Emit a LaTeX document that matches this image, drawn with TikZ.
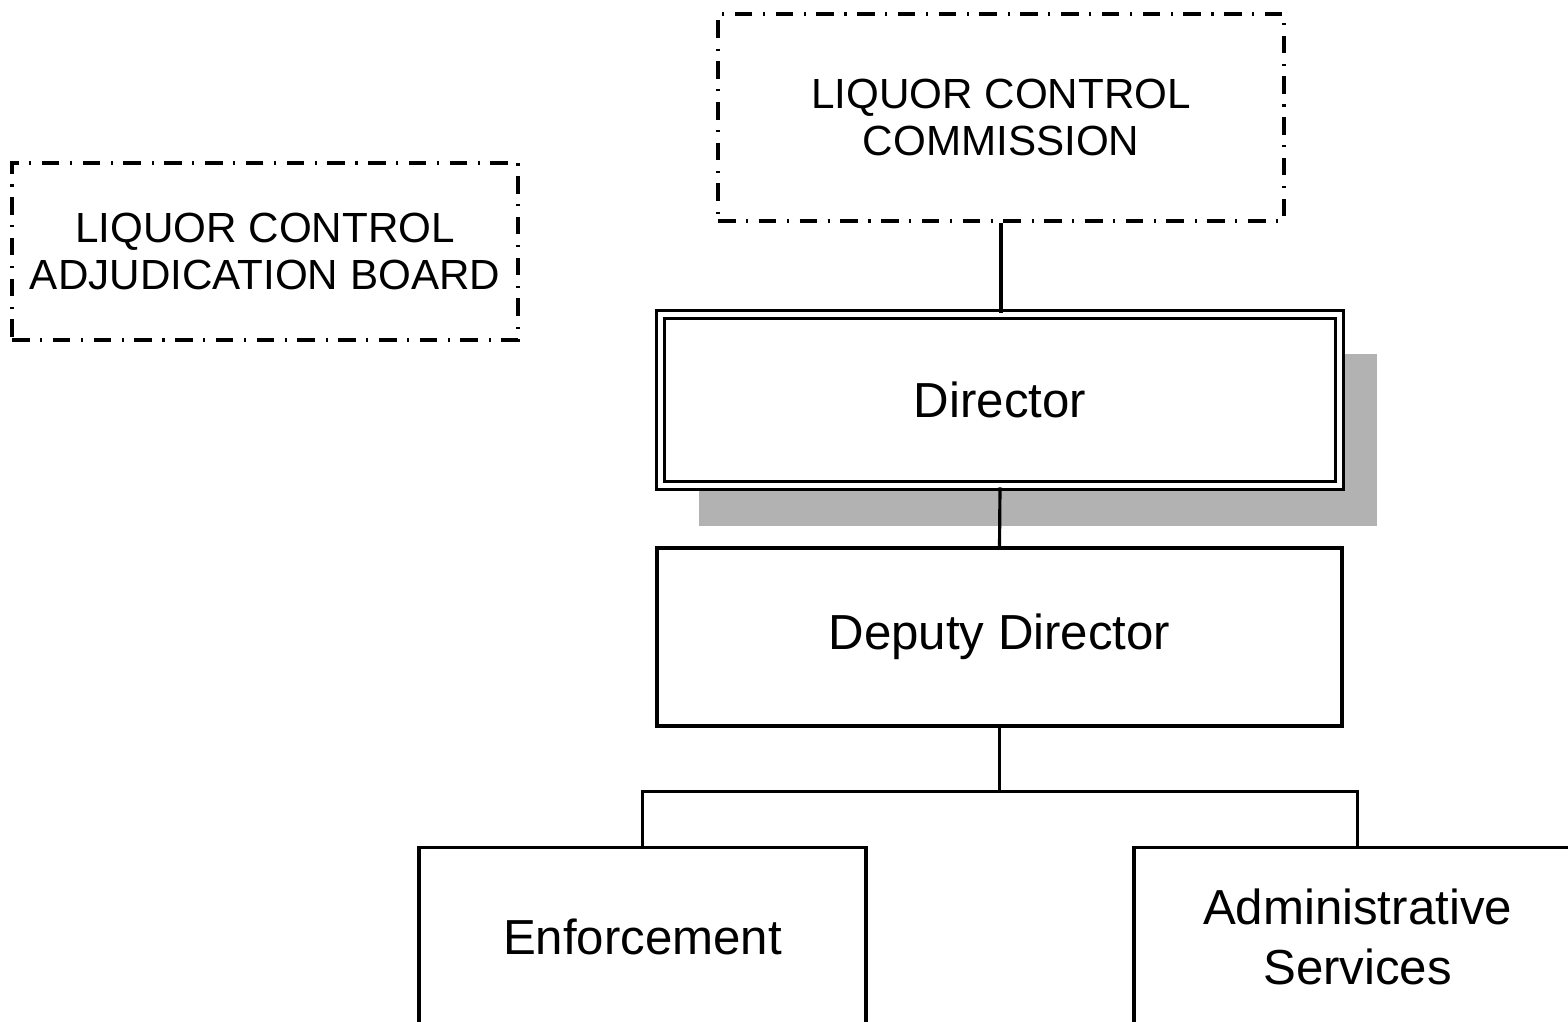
\documentclass[tikz,border=0pt]{standalone}
\usepackage{fontspec}
\setmainfont{Liberation Sans}
\usetikzlibrary{positioning, shadows}

\begin{document}
\begin{tikzpicture}[line width=0.9pt,
    dashbox/.style={draw, dash pattern=on 5pt off 3pt on 0.6pt off 3pt,
        align=center, inner sep=0pt, font=\fontsize{12}{13.5}\selectfont},
    unitbox/.style={draw, fill=white, align=center, inner sep=0pt,
        font=\fontsize{14}{17}\selectfont}]

        \useasboundingbox (0,0) rectangle (15.68,-10.21);

        % Boards
        \node[dashbox, minimum width=5.66cm, minimum height=2.07cm] (comm) at (10.01,-1.175)
            {LIQUOR CONTROL\\COMMISSION};
        \node[dashbox, minimum width=5.06cm, minimum height=1.77cm] (board) at (2.65,-2.515)
            {LIQUOR CONTROL\\ADJUDICATION BOARD};

        % Director with shadow
        \node[unitbox, double, double distance=1.3pt, minimum width=6.785cm, minimum height=1.715cm,
              drop shadow={shadow xshift=0.38cm, shadow yshift=-0.4cm, fill=black!30, opacity=1}]
            (dir) at (10.0,-4.0) {Director};
        \node[unitbox, minimum width=6.85cm, minimum height=1.78cm] (dep) at (9.995,-6.37)
            {Deputy Director};

        % Divisions
        \node[unitbox, anchor=north, minimum width=4.47cm, minimum height=1.78cm] (enf) at (6.425,-8.46)
            {Enforcement};
        \node[unitbox, anchor=north, minimum width=4.47cm, minimum height=1.78cm] (adm) at (13.575,-8.46)
            {Administrative\\Services};

        % Lines
        \draw (comm.south) -- (comm.south |- dir.north);
        \draw (dir.south) -- (dep.north);
        \draw (dep.south) -- ++(0,-0.64) coordinate (split);
        \draw (enf.north) |- (split) -| (adm.north);
\end{tikzpicture}
\end{document}
